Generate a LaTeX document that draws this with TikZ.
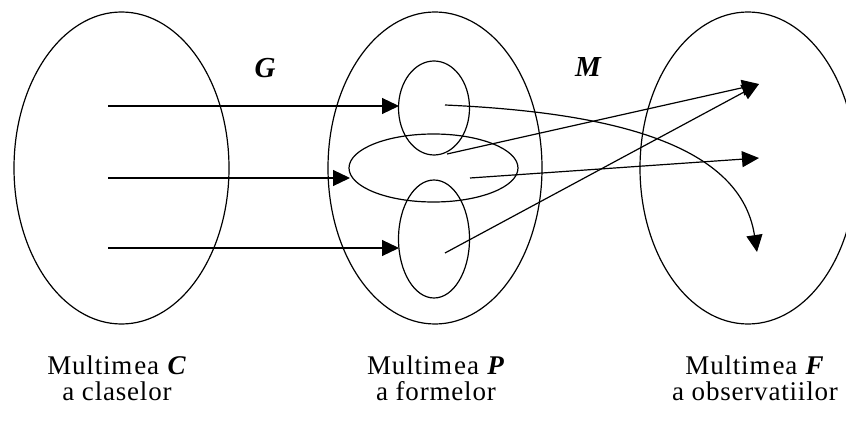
\documentclass[tikz,border=0pt]{standalone}
\usepackage{fontspec}
\setmainfont{Liberation Serif}
\newfontfamily\lblfont[LetterSpace=3]{Liberation Serif}
\usetikzlibrary{shapes.geometric,arrows.meta}
\begin{document}
\begin{tikzpicture}[x=1pt,y=-1pt,
  setshape/.style={draw,ellipse,inner sep=0pt,line width=1.2pt},
  arr/.style={line width=1.2pt,-{Triangle[length=17pt,width=16pt]}},
  lbl/.style={font=\fontsize{27}{26}\selectfont\lblfont,align=center,inner sep=0pt},
  maplbl/.style={font=\fontsize{29}{29}\selectfont\bfseries\itshape,inner sep=0pt}]
\useasboundingbox (0,0) rectangle (846,422);
\fill[white] (0,0) rectangle (846,422);
\begin{scope}
\clip (0,0) rectangle (846,422);
% outer sets
\node[setshape,minimum width=215pt,minimum height=312pt] (setC) at (121.5,168) {};
\node[setshape,minimum width=214pt,minimum height=312pt] (setP) at (435,168) {};
\node[setshape,minimum width=216pt,minimum height=312pt] (setF) at (748,168) {};
% inner ellipses
\node[setshape,minimum width=71pt,minimum height=94pt] (pA) at (434,108) {};
\node[setshape,minimum width=169pt,minimum height=68pt] (pB) at (433.5,168) {};
\node[setshape,minimum width=71pt,minimum height=118pt] (pD) at (434,239) {};
\end{scope}
% labels of mappings
\node[maplbl] (G) at (265,68) {G};
\node[maplbl] (M) at (588,67) {M};
% points
\coordinate (c1) at (108,106);
\coordinate (c2) at (108,178);
\coordinate (c3) at (108,248);
\coordinate (a1) at (399,106);
\coordinate (a2) at (350,178);
\coordinate (a3) at (399,248);
\coordinate (s1) at (445,105);
\coordinate (s2) at (447,154);
\coordinate (s3) at (470,178);
\coordinate (s4) at (445,253);
\coordinate (f1) at (759,84);
\coordinate (f2) at (759,158);
\coordinate (f3) at (757,252);
% arrows G
\draw[arr] (c1) -- (a1);
\draw[arr] (c2) -- (a2);
\draw[arr] (c3) -- (a3);
% arrows M
\draw[arr] (s1) .. controls (600,112) and (740,140) .. (f3);
\draw[arr] (s2) -- (f1);
\draw[arr] (s3) -- (f2);
\draw[arr] (s4) -- (f1);
% captions
\node[lbl] (capC) at (117,378) {Multim\kern2pt ea \textbf{\textit{C}}\\a claselor};
\node[lbl] (capP) at (436,378) {Multim\kern2pt ea \textbf{\textit{P}}\\a formelor};
\node[lbl] (capF) at (755,378) {Multim\kern2pt ea \textbf{\textit{F}}\\a observatiilor};
\end{tikzpicture}
\end{document}
